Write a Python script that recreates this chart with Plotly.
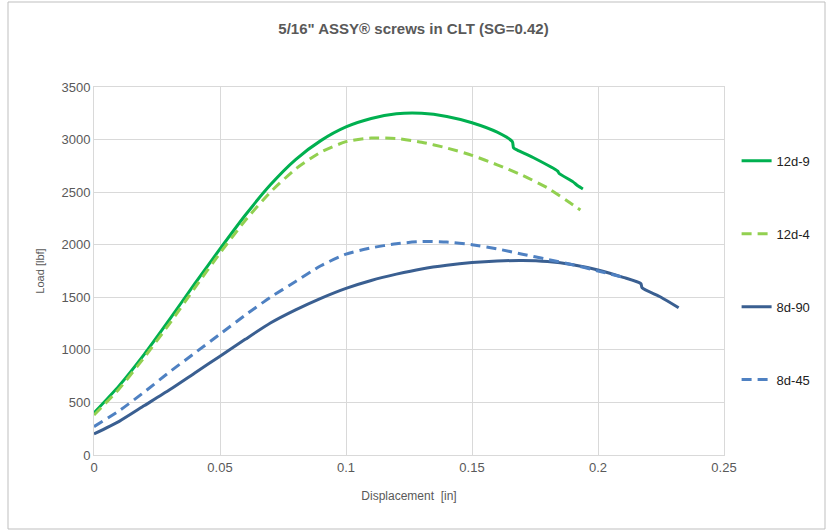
import plotly.graph_objects as go

# ---- data ----
x_12d9 = [0, 0.01, 0.02, 0.03, 0.04, 0.05, 0.06, 0.07, 0.08, 0.09, 0.10, 0.11, 0.12, 0.13,
          0.14, 0.15, 0.16, 0.166, 0.1665, 0.168, 0.175, 0.184, 0.1845, 0.19, 0.192, 0.194]
y_12d9 = [400, 660, 960, 1290, 1630, 1960, 2280, 2570, 2810, 2990, 3120, 3200, 3245, 3250,
          3220, 3160, 3070, 2980, 2920, 2900, 2820, 2700, 2680, 2600, 2560, 2530]

x_12d4 = [0, 0.01, 0.02, 0.03, 0.04, 0.05, 0.06, 0.07, 0.08, 0.09, 0.10, 0.11, 0.12, 0.13,
          0.14, 0.15, 0.16, 0.17, 0.18, 0.19, 0.193]
y_12d4 = [380, 630, 930, 1250, 1590, 1920, 2230, 2500, 2720, 2880, 2980, 3015, 3010, 2975,
          2920, 2850, 2760, 2660, 2540, 2380, 2330]

x_8d90 = [0, 0.01, 0.02, 0.03, 0.04, 0.05, 0.06, 0.07, 0.08, 0.09, 0.10, 0.11, 0.12, 0.13,
          0.14, 0.15, 0.16, 0.17, 0.18, 0.19, 0.20, 0.21, 0.217, 0.2175, 0.225, 0.232]
y_8d90 = [200, 320, 470, 620, 780, 940, 1100, 1255, 1380, 1490, 1585, 1660, 1720, 1770,
          1805, 1830, 1845, 1850, 1840, 1810, 1760, 1690, 1630, 1590, 1500, 1400]

x_8d45 = [0, 0.01, 0.02, 0.03, 0.04, 0.05, 0.06, 0.07, 0.08, 0.09, 0.10, 0.11, 0.12, 0.13,
          0.14, 0.15, 0.16, 0.17, 0.18, 0.19, 0.20, 0.21]
y_8d45 = [270, 420, 600, 790, 970, 1150, 1330, 1500, 1650, 1800, 1910, 1970, 2010, 2030,
          2025, 2000, 1960, 1910, 1860, 1810, 1750, 1690]

series = [
    ("12d-9", x_12d9, y_12d9, "#00B050", "solid"),
    ("12d-4", x_12d4, y_12d4, "#92D050", "10px,6px"),
    ("8d-90", x_8d90, y_8d90, "#3A5F91", "solid"),
    ("8d-45", x_8d45, y_8d45, "#4F81C2", "10px,6px"),
]

fig = go.Figure()
for name, xs, ys, color, dash in series:
    fig.add_trace(go.Scatter(
        x=xs, y=ys, name=name, mode="lines", legendgroup=name,
        line=dict(color=color, width=3, dash=dash, shape="spline", smoothing=0.6),
    ))

grey = "#595959"
fig.update_layout(
    width=827, height=531,
    margin=dict(l=94, r=103, t=87, b=76, autoexpand=False),
    paper_bgcolor="white", plot_bgcolor="white",
    font=dict(family="Liberation Sans, Arial, sans-serif", color=grey, size=13),
    title=dict(text="<b>5/16\" ASSY® screws in CLT (SG=0.42)</b>", x=0.5, xanchor="center",
               y=0.945, yanchor="middle", font=dict(size=15, color=grey)),
    showlegend=True,
    legend=dict(x=1.02, y=0.84, xanchor="left", yanchor="top", tracegroupgap=53,
                font=dict(size=13, color="#222222"), bgcolor="rgba(0,0,0,0)"),
    xaxis=dict(range=[0, 0.25], tickvals=[0, 0.05, 0.1, 0.15, 0.2, 0.25],
               ticktext=["0", "0.05", "0.1", "0.15", "0.2", "0.25"],
               showgrid=True, gridcolor="#D9D9D9", gridwidth=1, zeroline=False,
               showline=True, linecolor="#D9D9D9", mirror=True, ticks="",
               tickfont=dict(size=13, color=grey),
               title=dict(text="Displacement  [in]", font=dict(size=12, color=grey), standoff=18)),
    yaxis=dict(range=[0, 3500], dtick=500, showgrid=True, gridcolor="#D9D9D9", gridwidth=1,
               zeroline=False, showline=True, linecolor="#D9D9D9", mirror=True, ticks="",
               tickfont=dict(size=13, color=grey),
               title=dict(text="Load [lbf]", font=dict(size=11, color=grey), standoff=14)),
)

# outer chart border
fig.add_shape(type="rect", xref="paper", yref="paper",
              x0=(8 - 94) / 630, x1=(825 - 94) / 630,
              y0=(455 - 529) / 368, y1=(455 - 2) / 368,
              line=dict(color="#BFBFBF", width=1), layer="below")

fig.write_html("out.html")
